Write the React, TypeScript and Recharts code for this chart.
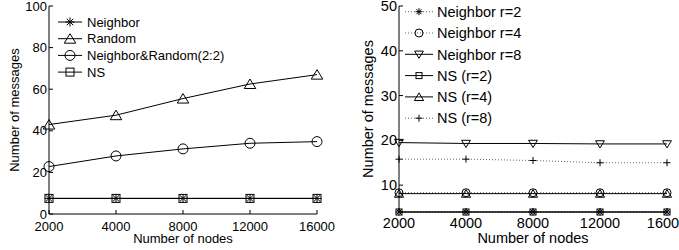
import React from 'react';
import { LineChart, Line, XAxis, YAxis, Legend } from 'recharts';

// ---------- data ----------
const nodes = ['2000', '4000', '8000', '12000', '16000'];

// left panel
const neighbor = [7.5, 7.5, 7.5, 7.5, 7.5];
const random = [43, 47.5, 55.5, 62.5, 67];
const neighborRandom = [22.8, 27.9, 31.3, 34, 34.8];
const ns = [7.5, 7.5, 7.5, 7.5, 7.5];
const leftTicks = [0, 20, 40, 60, 80, 100];

// right panel
const neighborR2 = [4, 4, 4, 4, 4];
const neighborR4 = [8.3, 8.3, 8.3, 8.3, 8.3];
const neighborR8 = [19.5, 19.3, 19.3, 19.2, 19.2];
const nsR2 = [4, 4, 4, 4, 4];
const nsR4 = [8.1, 8.1, 8.1, 8.1, 8.1];
const nsR8 = [15.8, 15.8, 15.5, 15.0, 15.0];
const rightTicks = [10, 20, 30, 40, 50];

const leftData = nodes.map((n, i) => ({
  n,
  neighbor: neighbor[i],
  random: random[i],
  neighborRandom: neighborRandom[i],
  ns: ns[i],
}));

const rightData = nodes.map((n, i) => ({
  n,
  neighborR2: neighborR2[i],
  neighborR4: neighborR4[i],
  neighborR8: neighborR8[i],
  nsR2: nsR2[i],
  nsR4: nsR4[i],
  nsR8: nsR8[i],
}));

// ---------- styles ----------
const FF = '"Liberation Sans", Arial, Helvetica, sans-serif';

type MK = 'star' | 'triUp' | 'triDown' | 'circle' | 'square' | 'plus';
interface Cfg {
  key: string;
  name: string;
  marker: MK;
  dotted?: boolean;
}

const leftSeries: Cfg[] = [
  { key: 'neighbor', name: 'Neighbor', marker: 'star' },
  { key: 'random', name: 'Random', marker: 'triUp' },
  { key: 'neighborRandom', name: 'Neighbor&Random(2:2)', marker: 'circle' },
  { key: 'ns', name: 'NS', marker: 'square' },
];

const rightSeries: Cfg[] = [
  { key: 'neighborR2', name: 'Neighbor r=2', marker: 'star', dotted: true },
  { key: 'neighborR4', name: 'Neighbor r=4', marker: 'circle', dotted: true },
  { key: 'neighborR8', name: 'Neighbor r=8', marker: 'triDown' },
  { key: 'nsR2', name: 'NS (r=2)', marker: 'square' },
  { key: 'nsR4', name: 'NS (r=4)', marker: 'triUp' },
  { key: 'nsR8', name: 'NS (r=8)', marker: 'plus', dotted: true },
];

const leftSizes: Record<MK, number> = { star: 4.5, triUp: 5, triDown: 5, circle: 5, square: 4, plus: 4 };
const rightSizes: Record<MK, number> = { star: 3.5, triUp: 4, triDown: 4, circle: 4, square: 3, plus: 3.5 };

function Marker({ type, cx, cy, s }: { type: MK; cx: number; cy: number; s: number }) {
  if (cx == null || cy == null || isNaN(cx) || isNaN(cy)) return null;
  const st = { stroke: '#000', strokeWidth: 1, fill: 'none' };
  switch (type) {
    case 'star': {
      const d = s * 0.72;
      return (
        <g {...st}>
          <line x1={cx - s} y1={cy} x2={cx + s} y2={cy} />
          <line x1={cx} y1={cy - s} x2={cx} y2={cy + s} />
          <line x1={cx - d} y1={cy - d} x2={cx + d} y2={cy + d} />
          <line x1={cx - d} y1={cy + d} x2={cx + d} y2={cy - d} />
        </g>
      );
    }
    case 'triUp':
      return (
        <polygon
          points={`${cx},${cy - s} ${cx - s * 1.15},${cy + s * 0.9} ${cx + s * 1.15},${cy + s * 0.9}`}
          {...st}
        />
      );
    case 'triDown':
      return (
        <polygon
          points={`${cx},${cy + s} ${cx - s * 1.1},${cy - s * 0.8} ${cx + s * 1.1},${cy - s * 0.8}`}
          {...st}
        />
      );
    case 'circle':
      return <circle cx={cx} cy={cy} r={s} {...st} />;
    case 'square':
      return <rect x={cx - s} y={cy - s} width={2 * s} height={2 * s} {...st} />;
    case 'plus':
      return (
        <g {...st}>
          <line x1={cx - s} y1={cy} x2={cx + s} y2={cy} />
          <line x1={cx} y1={cy - s} x2={cx} y2={cy + s} />
        </g>
      );
  }
  return null;
}

const DOTTED = '1 2';

function makeLegend(
  series: Cfg[],
  sizes: Record<MK, number>,
  x0: number,
  y0: number,
  dy: number,
  len: number,
  textX: number,
  fontSize: number,
  W: number
) {
  return (props: any) => {
    const payload: any[] = props.payload || [];
    return (
      <svg width={W} height={250} style={{ display: 'block', overflow: 'visible' }}>
        {series.map((c, i) => {
          const entry = payload.find((p) => p.dataKey === c.key);
          const label = entry ? entry.value : c.name;
          const y = y0 + i * dy;
          return (
            <g key={c.key}>
              <line
                x1={x0}
                x2={x0 + len}
                y1={y}
                y2={y}
                stroke={c.dotted ? '#666' : '#000'}
                strokeWidth={1}
                strokeDasharray={c.dotted ? DOTTED : undefined}
              />
              <Marker type={c.marker} cx={x0 + len / 2} cy={y} s={sizes[c.marker]} />
              <text x={textX} y={y} dy="0.36em" fontSize={fontSize} fontFamily={FF} fill="#000">
                {label}
              </text>
            </g>
          );
        })}
      </svg>
    );
  };
}

function yLabel(offsetX: number, fontSize: number) {
  return (p: any) => {
    const vb = p.viewBox || {};
    const x = vb.x + offsetX;
    const y = vb.y + vb.height / 2;
    return (
      <text
        x={x}
        y={y}
        transform={`rotate(-90 ${x} ${y})`}
        textAnchor="middle"
        fontSize={fontSize}
        fontFamily={FF}
        fill="#000"
      >
        Number of messages
      </text>
    );
  };
}

function xLabel(offsetY: number, fontSize: number) {
  return (p: any) => {
    const vb = p.viewBox || {};
    const x = vb.x + vb.width / 2;
    const y = vb.y + offsetY;
    return (
      <text x={x} y={y} textAnchor="middle" fontSize={fontSize} fontFamily={FF} fill="#000">
        Number of nodes
      </text>
    );
  };
}

const axisLine = { stroke: '#000', strokeWidth: 1 };
const tickLine = { stroke: '#000', strokeWidth: 1 };
const blank = () => '';

function Panel({
  data,
  series,
  sizes,
  width,
  margin,
  yWidth,
  xHeight,
  domain,
  ticks,
  fontSize,
  xTickMargin,
  xLabelOffset,
  yLabelOffset,
  legend,
}: any) {
  const tickStyle = { fill: '#000', fontSize, fontFamily: FF };
  return (
    <LineChart width={width} height={250} data={data} margin={margin} style={{ fontFamily: FF }}>
      <XAxis
        dataKey="n"
        type="category"
        axisLine={axisLine}
        tickLine={tickLine}
        tickSize={-4}
        tickMargin={xTickMargin}
        tick={tickStyle}
        height={xHeight}
        interval={0}
        label={{ content: xLabel(xLabelOffset, fontSize) }}
      />
      <XAxis
        xAxisId="top"
        dataKey="n"
        type="category"
        orientation="top"
        axisLine={axisLine}
        tickLine={tickLine}
        tickSize={-4}
        tickFormatter={blank}
        height={0}
        interval={0}
      />
      <YAxis
        type="number"
        domain={domain}
        ticks={ticks}
        axisLine={axisLine}
        tickLine={tickLine}
        tickSize={-4}
        tickMargin={6}
        tick={tickStyle}
        width={yWidth}
        interval={0}
        label={{ content: yLabel(yLabelOffset, fontSize) }}
      />
      <YAxis
        yAxisId="right"
        orientation="right"
        type="number"
        domain={domain}
        ticks={ticks}
        axisLine={axisLine}
        tickLine={tickLine}
        tickSize={-4}
        tickFormatter={blank}
        width={0}
        interval={0}
      />
      {series.map((c: Cfg) => (
        <Line
          key={c.key}
          dataKey={c.key}
          name={c.name}
          stroke={c.dotted ? '#666' : '#000'}
          strokeWidth={1}
          strokeDasharray={c.dotted ? DOTTED : undefined}
          dot={(p: any) => (
            <Marker key={`${c.key}-${p.index}`} type={c.marker} cx={p.cx} cy={p.cy} s={sizes[c.marker]} />
          )}
          activeDot={false}
          isAnimationActive={false}
        />
      ))}
      <Legend
        layout="horizontal"
        verticalAlign="middle"
        align="center"
        wrapperStyle={{ left: 0, top: 0, width, height: 250, pointerEvents: 'none' }}
        content={legend}
      />
    </LineChart>
  );
}

export default function App() {
  return (
    <div style={{ position: 'absolute', left: 0, top: 0, width: 679, height: 250, background: '#fff', overflow: 'hidden' }}>
      <div style={{ position: 'absolute', left: 0, top: 0 }}>
        <Panel
          data={leftData}
          series={leftSeries}
          sizes={leftSizes}
          width={340}
          margin={{ top: 6, right: 23, bottom: 0, left: 0 }}
          yWidth={49}
          xHeight={36}
          domain={[0, 100]}
          ticks={leftTicks}
          fontSize={13}
          xTickMargin={12}
          xLabelOffset={29}
          yLabelOffset={19}
          legend={makeLegend(leftSeries, leftSizes, 58, 22, 16.7, 24, 87, 13, 340)}
        />
      </div>
      <div style={{ position: 'absolute', left: 340, top: 0 }}>
        <Panel
          data={rightData}
          series={rightSeries}
          sizes={rightSizes}
          width={339}
          margin={{ top: 6, right: 12, bottom: 0, left: 0 }}
          yWidth={59}
          xHeight={38}
          domain={[4, 50]}
          ticks={rightTicks}
          fontSize={14.5}
          xTickMargin={10}
          xLabelOffset={31}
          yLabelOffset={33}
          legend={makeLegend(rightSeries, rightSizes, 65, 11.7, 21.3, 28, 97, 14.5, 339)}
        />
      </div>
    </div>
  );
}
